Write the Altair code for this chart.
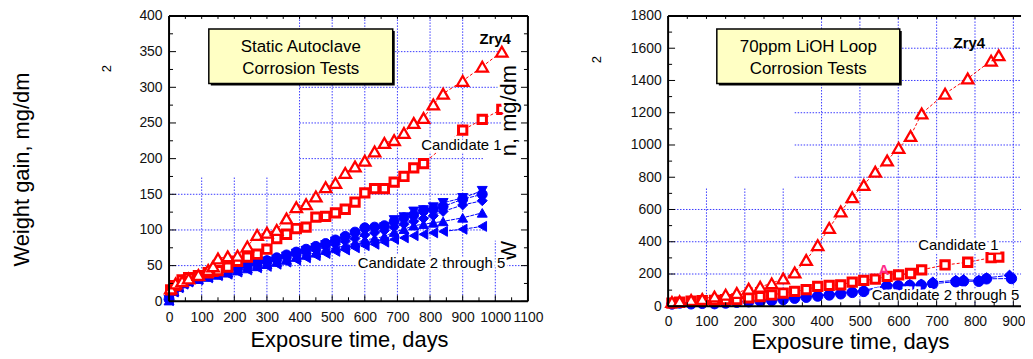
import altair as alt
import pandas as pd

# ---------------- data: left panel (static autoclave) ----------------
L_ZRY4_X = [5, 20, 40, 60, 90, 120, 135, 150, 180, 210, 240, 270, 300, 330, 360, 390, 420, 450, 480, 510,
            540, 570, 600, 630, 660, 690, 720, 750, 780, 810, 840, 900, 960, 1020]
L_ZRY4_Y = [18, 25, 28, 32, 37, 44, 49, 60, 63, 64, 77, 93, 96, 100, 116, 132, 136, 147, 160, 166,
            180, 189, 197, 210, 222, 226, 236, 250, 257, 276, 291, 309, 329, 350]
L_C1_X = [5, 20, 40, 60, 90, 120, 135, 150, 180, 210, 240, 270, 300, 330, 360, 390, 420, 450, 480, 510,
          540, 570, 600, 630, 660, 690, 720, 750, 780, 900, 960, 1020]
L_C1_Y = [16, 22, 30, 33, 36, 40, 42, 43, 48, 56, 62, 66, 73, 88, 94, 102, 104, 118, 119, 124,
          129, 139, 152, 158, 158, 167, 175, 187, 193, 240, 255, 269]
L_BLUE_X = [0, 15, 30, 45, 60, 90, 120, 150, 180, 210, 240, 270, 300, 330, 360, 390, 420, 450, 480, 510,
            540, 570, 600, 630, 660, 690, 720, 750, 780, 810, 840, 900, 960]
L_CAND2 = [3, 17, 23, 28, 31, 34, 38, 41, 44, 48, 51, 54, 57, 61, 65, 69, 73, 77, 81, 86,
           91, 97, 103, 104, 106, 112, 117, 121, 127, 129, 133, 143, 150]
L_CAND3 = [2, 16, 22, 27, 30, 33, 36, 40, 43, 47, 50, 53, 56, 59, 63, 67, 71, 75, 79, 84,
           88, 93, 98, 100, 104, 114, 118, 126, 128, 132, 138, 145, 155]
L_CAND4 = [2, 15, 21, 26, 29, 32, 35, 38, 41, 45, 48, 51, 54, 57, 61, 65, 68, 72, 76, 80,
           84, 88, 93, 96, 99, 104, 108, 112, 116, 120, 126, 135, 141]
L_CAND5 = [1, 14, 20, 25, 28, 31, 34, 37, 40, 43, 46, 49, 52, 55, 58, 62, 65, 68, 72, 75,
           78, 82, 86, 88, 91, 97, 101, 106, 108, 110, 112, 117, 124]
L_CAND5B = [1, 13, 19, 24, 27, 30, 33, 36, 38, 41, 44, 47, 49, 52, 55, 58, 61, 64, 67, 70,
            72, 75, 78, 80, 83, 87, 89, 92, 94, 96, 98, 101, 105]

# ---------------- data: right panel (70ppm LiOH loop) ----------------
R_ZRY4_X = [10, 30, 60, 89, 121, 150, 179, 210, 240, 270, 300, 330, 360, 390, 420, 450, 480, 510, 540,
            571, 601, 632, 661, 722, 781, 842, 862]
R_ZRY4_Y = [27, 31, 39, 45, 60, 72, 82, 109, 121, 142, 172, 209, 287, 379, 486, 588, 676, 752, 834,
            904, 982, 1056, 1195, 1318, 1412, 1523, 1556]
R_C1_X = R_ZRY4_X
R_C1_Y = [20, 25, 31, 35, 37, 41, 41, 52, 60, 70, 82, 92, 103, 123, 129, 133, 150, 160, 168,
          185, 195, 203, 226, 256, 273, 301, 305]
R_BLUE_A_X = [10, 30, 60, 89, 121, 150, 179, 210, 240, 270, 300, 330, 360, 390, 420, 450, 480, 510,
              570, 600, 630, 660, 690, 750, 770, 810, 830, 890]
R_BLUE_A_Y = [18, 24, 20, 22, 20, 24, 30, 33, 37, 41, 48, 55, 60, 67, 75, 82, 92, 98,
              131, 133, 135, 137, 150, 160, 165, 160, 176, 192]
R_BLUE_B_X = [10, 30, 60, 89, 121, 150, 179, 210, 240, 270, 300, 330, 360, 390, 420, 450, 480, 510,
              570, 600, 630, 660, 690, 750, 770, 810, 830, 895]
R_BLUE_B_Y = [14, 20, 15, 18, 16, 20, 25, 28, 32, 36, 42, 50, 56, 63, 70, 77, 86, 92,
              125, 127, 129, 131, 140, 152, 155, 155, 170, 172]

# axis tick values
L_X_TICKS = [0, 100, 200, 300, 400, 500, 600, 700, 800, 900, 1000, 1100]
L_Y_TICKS = [0, 50, 100, 150, 200, 250, 300, 350, 400]
R_X_TICKS = [0, 100, 200, 300, 400, 500, 600, 700, 800, 900]
R_Y_TICKS = [0, 200, 400, 600, 800, 1000, 1200, 1400, 1600, 1800]

# ---------------- styling ----------------
FONT = "Liberation Sans"
RED = "#ff0000"
BLUE = "#0000ff"
GRID = "#3a3aff"
BOXFILL = "#ffffc4"
LW, LH = 361, 287
RW, RH = 355, 292


def df_series(xs, ys, name):
    return pd.DataFrame({"x": xs, "y": ys, "s": name})


ONE = pd.DataFrame({"k": [0]})


def panel(xdom, ydom, xt, yt, ytitle, xtitle_pos, ytitle_pos, lab_pad_x):
    xs = alt.Scale(domain=xdom, nice=False, zero=False)
    ys = alt.Scale(domain=ydom, nice=False, zero=False)
    xaxis = alt.Axis(values=xt, title="Exposure time, days", grid=False, domain=False, ticks=False,
                     labelFont=FONT, labelFontSize=14, labelColor="#111", labelPadding=lab_pad_x,
                     labelOverlap=False, labelFlush=False, format="d",
                     titleFont=FONT, titleFontSize=22, titleFontWeight="normal", titleColor="#000",
                     titleX=xtitle_pos[0], titleY=xtitle_pos[1], titleBaseline="middle", titleAlign="center")
    if ytitle:
        yaxis = alt.Axis(values=yt, title=ytitle, grid=False, domain=False, ticks=False,
                         labelFont=FONT, labelFontSize=14, labelColor="#111", labelPadding=7,
                         labelOverlap=False, labelFlush=False, format="d",
                         titleFont=FONT, titleFontSize=22, titleFontWeight="normal", titleColor="#000",
                         titleX=ytitle_pos[0], titleY=ytitle_pos[1], titleAngle=270,
                         titleBaseline="middle", titleAlign="center")
    else:
        yaxis = alt.Axis(values=yt, title=None, grid=False, domain=False, ticks=False,
                         labelFont=FONT, labelFontSize=14, labelColor="#111", labelPadding=7,
                         labelOverlap=False, labelFlush=False, format="d")

    def X(f="x"):
        return alt.X(f"{f}:Q", scale=xs, axis=xaxis)

    def Y(f="y"):
        return alt.Y(f"{f}:Q", scale=ys, axis=yaxis)

    return X, Y


def grid_layers(X, Y, vgrid, hgrid):
    v = alt.Chart(pd.DataFrame(vgrid, columns=["x", "y", "y2"])).mark_rule(
        color=GRID, strokeWidth=1, strokeDash=[1.5, 1.5]).encode(x=X(), y=Y(), y2="y2:Q")
    h = alt.Chart(pd.DataFrame(hgrid, columns=["y", "x", "x2"])).mark_rule(
        color=GRID, strokeWidth=1, strokeDash=[1.5, 1.5]).encode(y=Y(), x=X(), x2="x2:Q")
    return [v, h]


def tick_layers(X, Y, W, H, xmaj, xmin, ymaj, ymin, right_side=True):
    out = []
    for vals, ln in ((ymaj, 7), (ymin, 4)):
        d = pd.DataFrame({"y": vals})
        out.append(alt.Chart(d).mark_rule(color="black", strokeWidth=1).encode(
            y=Y(), x=alt.value(0), x2=alt.value(ln)))
        if right_side:
            out.append(alt.Chart(d).mark_rule(color="black", strokeWidth=1).encode(
                y=Y(), x=alt.value(W - ln), x2=alt.value(W)))
    for vals, ln in ((xmaj, 6), (xmin, 4)):
        d = pd.DataFrame({"x": vals})
        out.append(alt.Chart(d).mark_rule(color="black", strokeWidth=1).encode(
            x=X(), y=alt.value(H - ln), y2=alt.value(H)))
        out.append(alt.Chart(d).mark_rule(color="black", strokeWidth=1).encode(
            x=X(), y=alt.value(0), y2=alt.value(3)))
    return out


def frame_layers(W, H, right_side=True):
    base = alt.Chart(ONE)
    out = [
        base.mark_rule(color="black", strokeWidth=2).encode(x=alt.value(0), y=alt.value(0), y2=alt.value(H)),
        base.mark_rule(color="black", strokeWidth=2).encode(x=alt.value(0), x2=alt.value(W), y=alt.value(0)),
        base.mark_rule(color="black", strokeWidth=2).encode(x=alt.value(0), x2=alt.value(W), y=alt.value(H)),
    ]
    if right_side:
        out.append(base.mark_rule(color="black", strokeWidth=2).encode(
            x=alt.value(W), y=alt.value(0), y2=alt.value(H)))
    return out


def box_layers(x0, y0, x1, y1, lines, cx, ly):
    base = alt.Chart(ONE)
    out = [
        base.mark_rect(color="black").encode(x=alt.value(x0 + 2), x2=alt.value(x1 + 2),
                                             y=alt.value(y0 + 2), y2=alt.value(y1 + 2)),
        base.mark_rect(fill=BOXFILL, stroke="black", strokeWidth=1.5).encode(
            x=alt.value(x0), x2=alt.value(x1), y=alt.value(y0), y2=alt.value(y1)),
    ]
    for t, yy in zip(lines, ly):
        out.append(base.mark_text(text=t, font=FONT, fontSize=17, color="black", align="center",
                                  baseline="middle").encode(x=alt.value(cx), y=alt.value(yy)))
    return out


def label_layers(text, px, py, size=15, bold=False, angle=0, align="center", color="black", halo=True):
    base = alt.Chart(ONE)
    kw = dict(text=text, font=FONT, fontSize=size, fontWeight="bold" if bold else "normal",
              align=align, baseline="middle", angle=angle)
    out = []
    if halo:
        out.append(base.mark_text(color="white", stroke="white", strokeWidth=5, **kw).encode(
            x=alt.value(px), y=alt.value(py)))
    out.append(base.mark_text(color=color, **kw).encode(x=alt.value(px), y=alt.value(py)))
    return out


def line_layer(X, Y, df, color, dash):
    return alt.Chart(df).mark_line(color=color, strokeWidth=1, strokeDash=dash).encode(
        x=X(), y=Y(), detail="s:N", order="x:Q")


def point_layer(X, Y, df, color, shape, filled, size, swidth):
    return alt.Chart(df).mark_point(shape=shape, filled=filled, color=color,
                                    fill=color if filled else "white", stroke=color,
                                    strokeWidth=swidth, size=size, opacity=1, fillOpacity=1).encode(
        x=X(), y=Y())


# ---------------- left panel ----------------
LX, LY = panel([0, 1100], [0, 400], L_X_TICKS, L_Y_TICKS, "Weight gain, mg/dm",
               (181, 38), (-148, 154), 9)

l_vgrid = [[100, 0, 175], [200, 0, 175], [300, 0, 175], [400, 0, 400], [500, 0, 400], [600, 0, 400],
           [700, 0, 400], [800, 0, 400], [900, 0, 400], [1000, 0, 85]]
l_hgrid = [[50, 0, 1100], [100, 0, 965], [150, 0, 965], [200, 400, 965], [250, 400, 1030],
           [300, 400, 1030], [350, 400, 1030]]

l_zry = df_series(L_ZRY4_X, L_ZRY4_Y, "Zry4")
l_c1 = df_series(L_C1_X, L_C1_Y, "Candidate 1")
l_blue_sets = [
    (df_series(L_BLUE_X, L_CAND2, "Candidate 2"), "circle"),
    (df_series(L_BLUE_X, L_CAND3, "Candidate 3"), "triangle-down"),
    (df_series(L_BLUE_X, L_CAND4, "Candidate 4"), "diamond"),
    (df_series(L_BLUE_X, L_CAND5, "Candidate 5"), "triangle-up"),
    (df_series(L_BLUE_X, L_CAND5B, "Candidate 5b"), "triangle-left"),
]

left_layers = []
left_layers += grid_layers(LX, LY, l_vgrid, l_hgrid)
for d, shp in l_blue_sets:
    left_layers.append(line_layer(LX, LY, d, BLUE, [4, 1]))
for d, shp in l_blue_sets:
    left_layers.append(point_layer(LX, LY, d, BLUE, shp, True, 100, 1))
left_layers.append(line_layer(LX, LY, l_c1, RED, [3, 2]))
left_layers.append(point_layer(LX, LY, l_c1, RED, "square", False, 70, 3))
left_layers.append(line_layer(LX, LY, l_zry, RED, [3, 2]))
left_layers.append(point_layer(LX, LY, l_zry, RED, "triangle-up", False, 130, 2.3))
left_layers += box_layers(40, 13, 225, 68, ["Static Autoclave", "Corrosion Tests"], 132.5, [31, 53])
left_layers += label_layers("n, mg/dm", 342, 141, size=22, angle=270, align="left")
left_layers += label_layers("W", 342, 247, size=22, angle=270, align="left")
left_layers += label_layers("Zry4", 328, 23, size=15, bold=True, halo=False)
left_layers += label_layers("Candidate 1", 294, 130)
left_layers += label_layers("Candidate 2 through 5", 264, 249)
left_layers += label_layers("2", -62, 53, size=13, angle=270, halo=False)
left_layers += tick_layers(LX, LY, LW, LH, list(range(0, 1101, 100)), list(range(50, 1100, 100)),
                           L_Y_TICKS, list(range(25, 400, 50)), right_side=True)
left_layers += frame_layers(LW, LH, right_side=True)

left = alt.layer(*left_layers).properties(width=LW, height=LH)

# ---------------- right panel ----------------
RX, RY = panel([0, 920], [0, 1800], R_X_TICKS, R_Y_TICKS, None, (183, 35), (0, 0), 8)

r_vgrid = [[100, 0, 730], [200, 0, 730], [300, 0, 730], [400, 0, 1800], [500, 0, 1800], [600, 0, 1800],
           [700, 0, 1800], [800, 0, 1800], [900, 0, 1800]]
r_hgrid = [[200, 0, 920], [400, 0, 920], [600, 0, 920], [800, 330, 920], [1000, 330, 920],
           [1200, 330, 920], [1400, 330, 920], [1600, 330, 920]]

r_zry = df_series(R_ZRY4_X, R_ZRY4_Y, "Zry4")
r_c1 = df_series(R_C1_X, R_C1_Y, "Candidate 1")
r_blue_sets = [
    (df_series(R_BLUE_A_X, R_BLUE_A_Y, "Candidate 2"), "diamond"),
    (df_series(R_BLUE_B_X, R_BLUE_B_Y, "Candidate 3"), "circle"),
]

right_layers = []
right_layers += grid_layers(RX, RY, r_vgrid, r_hgrid)
for d, shp in r_blue_sets:
    right_layers.append(line_layer(RX, RY, d, BLUE, [5, 1]))
for d, shp in r_blue_sets:
    right_layers.append(point_layer(RX, RY, d, BLUE, shp, True, 110, 1))
right_layers.append(line_layer(RX, RY, r_c1, RED, [3, 2]))
right_layers.append(point_layer(RX, RY, r_c1, RED, "square", False, 70, 3))
right_layers.append(line_layer(RX, RY, r_zry, RED, [3, 2]))
right_layers.append(point_layer(RX, RY, r_zry, RED, "triangle-up", False, 130, 2.3))
right_layers += box_layers(49, 13, 233, 68, ["70ppm LiOH Loop", "Corrosion Tests"], 141, [31, 53])
right_layers += label_layers("Zry4", 303, 27, size=15, bold=True, halo=False)
right_layers += label_layers("Candidate 1", 292, 230)
right_layers += label_layers("Candidate 2 through 5", 279, 281)
right_layers += label_layers("A", 217, 256, size=15, bold=True, color="#ff2a8a", halo=False)
right_layers += label_layers("2", -72, 44, size=13, angle=270, halo=False)
right_layers += tick_layers(RX, RY, RW, RH, list(range(0, 901, 100)), list(range(50, 901, 100)),
                           R_Y_TICKS, list(range(100, 1800, 200)), right_side=False)
right_layers += frame_layers(RW, RH, right_side=False)

right = alt.layer(*right_layers).properties(width=RW, height=RH)

chart = alt.hconcat(left, right, spacing=141, bounds="flush").properties(
    padding={"left": 3, "top": 0, "right": 0, "bottom": 0},
    background="white",
).configure_view(stroke=None)

chart.save("out.html", embed_options={"renderer": "svg", "actions": False})
